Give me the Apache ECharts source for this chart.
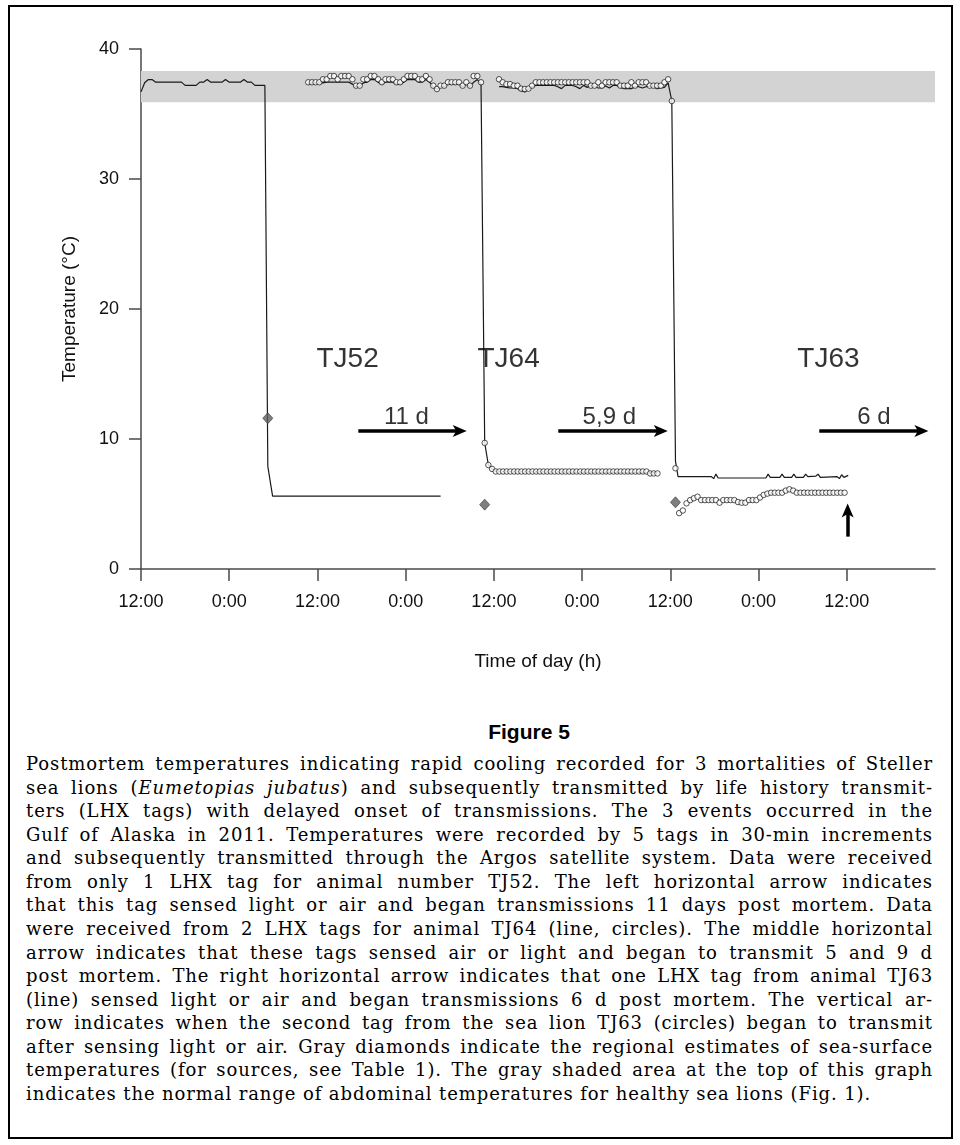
<!DOCTYPE html>
<html>
<head>
<meta charset="utf-8">
<script src="https://cdn.jsdelivr.net/npm/echarts@6/dist/echarts.min.js"></script>
<style>
  html, body { margin:0; padding:0; background:#fff; }
  body { width:960px; height:1145px; position:relative; overflow:hidden; }
  #frame { position:absolute; left:8px; top:5px; width:945px; height:1134px; border:2px solid #000; box-sizing:border-box; }
  #chart { position:absolute; left:0; top:0; width:960px; height:700px; }
  #figtitle { position:absolute; left:429px; width:200px; top:720px; text-align:center;
    font-family:"Liberation Sans", Arial, sans-serif; font-weight:bold; font-size:21px; color:#000; }
  #caption { position:absolute; left:26px; top:752px; width:907px;
    font-family:"DejaVu Serif", serif; font-size:18px; letter-spacing:0.9px; color:#000; }
  #caption .ln { white-space:nowrap; text-align:justify; text-align-last:justify; height:23.57px; line-height:23.57px; }
  #caption .ln.last { text-align:left; text-align-last:left; }
</style>
</head>
<body>
<div id="frame"></div>
<div id="chart"></div>
<div id="figtitle">Figure 5</div>
<div id="caption">
  <div class="ln">Postmortem temperatures indicating rapid cooling recorded for 3 mortalities of Steller</div>
  <div class="ln">sea lions (<i>Eumetopias jubatus</i>) and subsequently transmitted by life history transmit-</div>
  <div class="ln">ters (LHX tags) with delayed onset of transmissions. The 3 events occurred in the</div>
  <div class="ln">Gulf of Alaska in 2011. Temperatures were recorded by 5 tags in 30-min increments</div>
  <div class="ln">and subsequently transmitted through the Argos satellite system. Data were received</div>
  <div class="ln">from only 1 LHX tag for animal number TJ52. The left horizontal arrow indicates</div>
  <div class="ln">that this tag sensed light or air and began transmissions 11 days post mortem. Data</div>
  <div class="ln">were received from 2 LHX tags for animal TJ64 (line, circles). The middle horizontal</div>
  <div class="ln">arrow indicates that these tags sensed air or light and began to transmit 5 and 9 d</div>
  <div class="ln">post mortem. The right horizontal arrow indicates that one LHX tag from animal TJ63</div>
  <div class="ln">(line) sensed light or air and began transmissions 6 d post mortem. The vertical ar-</div>
  <div class="ln">row indicates when the second tag from the sea lion TJ63 (circles) began to transmit</div>
  <div class="ln">after sensing light or air. Gray diamonds indicate the regional estimates of sea-surface</div>
  <div class="ln">temperatures (for sources, see Table 1). The gray shaded area at the top of this graph</div>
  <div class="ln last">indicates the normal range of abdominal temperatures for healthy sea lions (Fig. 1).</div>
</div>
<script>
// ---------------- DATA ----------------
// x = hours after the first 12:00 mark; readings every 30 min
const STEP_H = 0.5;

const xTickValues = [0, 12, 24, 36, 48, 60, 72, 84, 96];
const xTickLabels = ['12:00', '0:00', '12:00', '0:00', '12:00', '0:00', '12:00', '0:00', '12:00'];
const yTickValues = [0, 10, 20, 30, 40];

// Normal abdominal temperature range (gray band)
const normalRange = [35.9, 38.3];

// TJ52 (1 tag, line)
const tj52WarmStart = 0;
const tj52Warm = [36.7, 37.4, 37.65, 37.65, 37.45, 37.45, 37.45, 37.45, 37.45, 37.45, 37.45, 37.45,
  37.2, 37.2, 37.2, 37.2, 37.45, 37.45, 37.65, 37.45, 37.45, 37.45, 37.45, 37.65, 37.45, 37.45,
  37.45, 37.45, 37.65, 37.45, 37.45, 37.2, 37.2, 37.2];
const tj52Cold = [[16.85, 37.2], [17.25, 7.9], [17.9, 5.6], [40.75, 5.6]];

// TJ64 tag A (circles)
const tj64CircStart = 22.75;
const tj64Circles = [37.44, 37.44, 37.44, 37.44, 37.67, 37.67, 37.92, 37.92, 37.67, 37.92, 37.92, 37.92,
  37.67, 37.18, 37.18, 37.67, 37.67, 37.92, 37.92, 37.67, 37.44, 37.67, 37.67, 37.67, 37.44, 37.44,
  37.67, 37.92, 37.92, 37.92, 37.67, 37.67, 37.92, 37.67, 37.18, 36.92, 37.18, 37.18, 37.44, 37.44,
  37.44, 37.44, 37.18, 37.44, 37.18, 37.92, 37.92, 37.44,
  9.7, 8.0, 7.7,
  7.5, 7.5, 7.5, 7.5, 7.5, 7.5, 7.5, 7.5, 7.5, 7.5, 7.5, 7.5, 7.5, 7.5, 7.5, 7.5, 7.5, 7.5, 7.5, 7.5, 7.5,
  7.5, 7.5, 7.5, 7.5, 7.5, 7.5, 7.5, 7.5, 7.5, 7.5, 7.5, 7.5, 7.5, 7.5, 7.5, 7.5, 7.5, 7.5, 7.5, 7.5, 7.5,
  7.35, 7.35, 7.35];

// TJ64 tag B (line)
const tj64LineStart = 22.75;
const tj64LineWarm = [37.3, 37.4, 37.4, 37.4, 37.4, 37.45, 37.45, 37.45, 37.45, 37.45, 37.45, 37.45,
  37.3, 37.1, 37.1, 37.4, 37.45, 37.65, 37.65, 37.45, 37.3, 37.45, 37.45, 37.45, 37.3, 37.3,
  37.45, 37.65, 37.65, 37.65, 37.45, 37.45, 37.65, 37.45, 37.1, 36.9, 37.1, 37.1, 37.3, 37.3,
  37.3, 37.3, 37.1, 37.3, 37.1, 37.45, 37.65, 37.3];
const tj64LineCold = [[46.75, 9.7], [47.25, 8.0], [47.75, 7.7], [48.25, 7.5], [70.25, 7.4]];

// TJ63 tag A (line)
const tj63LineStart = 48.7;
const tj63LineWarm = [37.1, 37.1, 37.05, 37.0, 37.0, 36.95, 36.8, 36.7, 36.9, 37.1, 37.2, 37.2,
  37.2, 37.2, 37.2, 37.2, 37.1, 36.95, 37.2, 37.2, 37.2, 37.1, 36.95, 37.2, 37.05, 37.2, 37.1,
  37.0, 37.0, 37.15, 37.0, 37.2, 37.2, 37.05, 36.95, 36.95, 36.95, 37.1, 37.1, 37.0, 37.1, 37.15,
  37.1, 36.95, 37.0, 37.05, 37.4];
const tj63LineCold = [[72.2, 36.0], [72.7, 8.3], [73.05, 7.1], [77.6, 7.1], [77.9, 6.95], [78.2, 7.3],
  [78.5, 7.0], [85.0, 7.0], [85.3, 7.3], [85.6, 7.05], [86.9, 7.05], [87.2, 7.3], [87.5, 7.05],
  [88.5, 7.05], [88.8, 7.3], [89.1, 7.05], [90.1, 7.05], [90.4, 7.3], [90.7, 7.1], [91.8, 7.15],
  [92.1, 7.3], [92.4, 7.05], [94.7, 7.1], [95.0, 6.95], [95.3, 7.25], [95.6, 7.05], [96.2, 7.2]];

// TJ63 tag B (circles)
const tj63CircStart = 48.7;
const tj63Circles = [37.67, 37.44, 37.3, 37.3, 37.18, 37.18, 36.95, 36.92, 36.95, 37.18, 37.44, 37.44,
  37.44, 37.44, 37.44, 37.44, 37.44, 37.44, 37.44, 37.44, 37.44, 37.44, 37.44, 37.44, 37.44, 37.18,
  37.18, 37.44, 37.18, 37.44, 37.44, 37.44, 37.44, 37.18, 37.18, 37.18, 37.44, 37.18, 37.44, 37.44,
  37.44, 37.18, 37.18, 37.18, 37.18, 37.44, 37.67,
  36.0,
  7.75, 4.3, 4.5, 5.05, 5.3, 5.44, 5.56, 5.3, 5.3, 5.3, 5.3, 5.3, 5.1, 5.3, 5.3, 5.3, 5.3, 5.15,
  5.1, 5.1, 5.3, 5.3, 5.3, 5.5, 5.7, 5.8, 5.87, 5.87, 5.87, 5.87, 6.03, 6.13, 6.03,
  5.87, 5.87, 5.87, 5.87, 5.87, 5.87, 5.87, 5.87, 5.87, 5.87, 5.87, 5.87, 5.87, 5.87];

// Regional sea-surface temperature estimates (gray diamonds)
const sstDiamonds = [[17.25, 11.6], [46.75, 4.95], [72.7, 5.13]];

// Animal labels and transmission-delay annotations
const animalLabels = [['TJ52', 28.1, 16.1], ['TJ64', 50.0, 16.1], ['TJ63', 93.5, 16.1]];
const delayLabels = [['11 d', 36.1, 11.65], ['5,9 d', 63.7, 11.65], ['6 d', 99.7, 11.65]];
// arrows: [x0, y0, x1, y1] in data units
const arrows = [[29.56, 10.62, 43.35, 10.62], [56.76, 10.62, 70.7, 10.62],
  [92.26, 10.62, 106.15, 10.62], [96.12, 2.49, 96.12, 4.5]];

// ---------------- CHART ----------------
function sampled(start, vals) { return vals.map((v, i) => [start + i * STEP_H, v]); }

const FONT = '"Liberation Sans", Arial, Helvetica, sans-serif';
const AX = '#4a4a4a';
const LINE_C = '#1a1a1a';
const ARROW = 'path://M5,0 L10,12 L5,9 L0,12 Z';

const lineSeries = (name, data) => ({
  name, type: 'line', data, showSymbol: false, symbol: 'none', z: 3,
  lineStyle: { color: LINE_C, width: 1.2 }, silent: true, animation: false
});
const circleSeries = (name, data) => ({
  name, type: 'scatter', data, symbol: 'circle', symbolSize: 5.5, z: 4,
  itemStyle: { color: '#fff', borderColor: '#111', borderWidth: 0.9 }, silent: true, animation: false
});

const chart = echarts.init(document.getElementById('chart'), null, { renderer: 'canvas' });
chart.setOption({
  animation: false,
  backgroundColor: 'transparent',
  textStyle: { fontFamily: FONT },
  grid: { left: 141, right: 25, top: 49, bottom: 131, containLabel: false },
  xAxis: {
    type: 'value', min: 0, max: 108, interval: 12,
    axisLine: { show: true, onZero: false, lineStyle: { color: AX, width: 1.5 } },
    axisTick: { show: true, length: 12, customValues: xTickValues, lineStyle: { color: AX, width: 1.5 } },
    axisLabel: {
      customValues: xTickValues, margin: 24, fontSize: 18, color: '#111', fontFamily: FONT,
      formatter: v => { const i = xTickValues.indexOf(v); return i >= 0 ? xTickLabels[i] : ''; }
    },
    splitLine: { show: false },
    name: 'Time of day (h)', nameLocation: 'middle', nameGap: 83,
    nameTextStyle: { fontSize: 19, color: '#111', fontFamily: FONT }
  },
  yAxis: {
    type: 'value', min: 0, max: 40, interval: 10,
    axisLine: { show: true, lineStyle: { color: AX, width: 1.5 } },
    axisTick: { show: true, length: 12, customValues: yTickValues, lineStyle: { color: AX, width: 1.5 } },
    axisLabel: { customValues: yTickValues, margin: 22, fontSize: 18, color: '#111', fontFamily: FONT },
    splitLine: { show: false },
    name: 'Temperature (°C)', nameLocation: 'middle', nameGap: 62, nameRotate: 90,
    nameTextStyle: { fontSize: 19, color: '#111', fontFamily: FONT }
  },
  series: [
    {
      name: 'band', type: 'line', data: [], z: 1, silent: true,
      markArea: {
        silent: true, itemStyle: { color: '#d3d3d3' },
        data: [[{ coord: [0, normalRange[0]] }, { coord: [108, normalRange[1]] }]]
      }
    },
    lineSeries('TJ52', sampled(tj52WarmStart, tj52Warm).concat(tj52Cold)),
    lineSeries('TJ64 line', sampled(tj64LineStart, tj64LineWarm).concat(tj64LineCold)),
    lineSeries('TJ63 line', sampled(tj63LineStart, tj63LineWarm).concat(tj63LineCold)),
    circleSeries('TJ64 circles', sampled(tj64CircStart, tj64Circles)),
    circleSeries('TJ63 circles', sampled(tj63CircStart, tj63Circles)),
    {
      name: 'SST', type: 'scatter', data: sstDiamonds, symbol: 'diamond', symbolSize: [10, 11], z: 5,
      itemStyle: { color: '#5f5f5f', borderColor: '#333', borderWidth: 0.8 }, silent: true
    },
    {
      name: 'animal labels', type: 'scatter', z: 6, silent: true, symbolSize: 1,
      itemStyle: { color: 'rgba(0,0,0,0)' },
      data: animalLabels.map(a => ({ name: a[0], value: [a[1], a[2]] })),
      label: { show: true, position: 'inside', formatter: '{b}', fontSize: 28, color: '#000', fontFamily: FONT }
    },
    {
      name: 'delay labels', type: 'scatter', z: 6, silent: true, symbolSize: 1,
      itemStyle: { color: 'rgba(0,0,0,0)' },
      data: delayLabels.map(a => ({ name: a[0], value: [a[1], a[2]] })),
      label: { show: true, position: 'inside', formatter: '{b}', fontSize: 24, color: '#000', fontFamily: FONT },
      markLine: {
        silent: true, animation: false,
        symbol: ['none', ARROW], symbolSize: [12, 14],
        lineStyle: { color: '#000', width: 3.5, type: 'solid' },
        label: { show: false },
        emphasis: { disabled: true },
        data: arrows.map(a => [{ coord: [a[0], a[1]] }, { coord: [a[2], a[3]] }])
      }
    }
  ]
});
</script>
</body>
</html>
